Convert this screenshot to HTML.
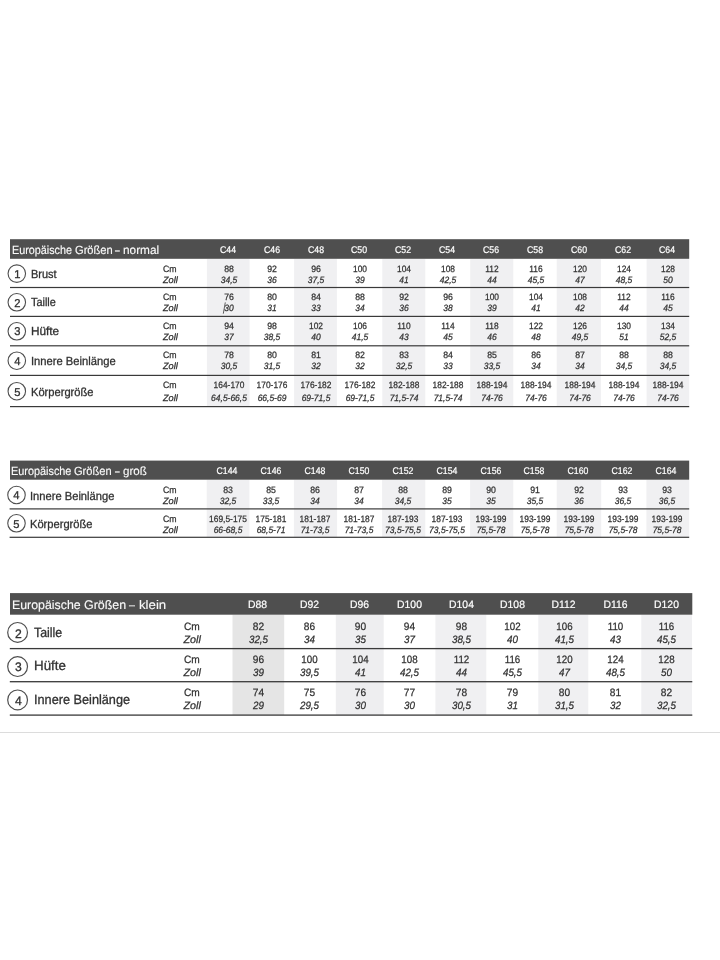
<!DOCTYPE html>
<html lang="de">
<head>
<meta charset="utf-8">
<title>Größentabelle</title>
<style>
html,body{margin:0;padding:0;background:#fff}
body{width:720px;height:960px;position:relative;overflow:hidden;font-family:"Liberation Sans",sans-serif;color:#303030}
#wrap{text-rendering:geometricPrecision}
.bg,.t,.rule,.cur{position:absolute}
.t{line-height:1em;white-space:nowrap;-webkit-text-stroke:0.25px #303030}
.b,.n{-webkit-text-stroke:0.3px #303030}
.l{transform-origin:0 50%}
.c{text-align:center;transform-origin:50% 50%}
.w{color:#fafafa;-webkit-text-stroke:0.12px #fafafa}
.w.c{color:#fff;-webkit-text-stroke:0.2px #fff}
.w span{position:absolute;top:0;transform-origin:0 50%}
.i{font-style:italic}
.rule{left:0;top:732px;width:720px;height:1px;background:#dcdcdc}
</style>
</head>
<body>
<div id="wrap">
<section class="tbl" id="t1">
<svg class="bg" style="left:0;top:237px" width="720" height="173" viewBox="0 237 720 173">
<rect x="206.9" y="258.8" width="42.7" height="147.8" fill="#f0f0f2"/>
<rect x="294.1" y="258.8" width="42.8" height="147.8" fill="#f0f0f2"/>
<rect x="382.3" y="258.8" width="43" height="147.8" fill="#f0f0f2"/>
<rect x="470.2" y="258.8" width="43.1" height="147.8" fill="#f0f0f2"/>
<rect x="556.7" y="258.8" width="44.2" height="147.8" fill="#f0f0f2"/>
<rect x="646.6" y="258.8" width="42.6" height="147.8" fill="#f0f0f2"/>
<rect x="10" y="239.2" width="679.2" height="19.6" fill="#4f4f4f"/>
<rect x="10" y="286.9" width="679.2" height="1.2" fill="#3a3a3a"/>
<rect x="10" y="315.8" width="679.2" height="1.2" fill="#3a3a3a"/>
<rect x="10" y="345.2" width="679.2" height="1.2" fill="#3a3a3a"/>
<rect x="10" y="374.8" width="679.2" height="1.2" fill="#3a3a3a"/>
<rect x="10" y="406" width="679.2" height="1.2" fill="#3a3a3a"/>
<circle cx="16.8" cy="273.6" r="8.75" fill="none" stroke="#4e4e4e" stroke-width="1.1"/>
<circle cx="16.8" cy="302.3" r="8.75" fill="none" stroke="#4e4e4e" stroke-width="1.1"/>
<circle cx="16.8" cy="331.3" r="8.75" fill="none" stroke="#4e4e4e" stroke-width="1.1"/>
<circle cx="16.8" cy="360.7" r="8.75" fill="none" stroke="#4e4e4e" stroke-width="1.1"/>
<circle cx="16.8" cy="391.2" r="8.75" fill="none" stroke="#4e4e4e" stroke-width="1.1"/>
</svg>
<div class="head">
<div class="t w" style="left:0;top:245px;font-size:11.9px"><span style="left:12.07px;transform:scaleX(0.908)">Europäische</span> <span style="left:75.03px;transform:scaleX(0.936)">Größen</span> <span style="left:115.43px;transform:scaleX(0.714)">–</span> <span style="left:123.01px;transform:scaleX(0.993)">normal</span></div>
<div class="t w c" style="left:205.6px;top:246px;font-size:9.7px;width:44px;transform:scaleX(0.9);">C44</div>
<div class="t w c" style="left:249.55px;top:246px;font-size:9.7px;width:44px;transform:scaleX(0.9);">C46</div>
<div class="t w c" style="left:293.5px;top:246px;font-size:9.7px;width:44px;transform:scaleX(0.9);">C48</div>
<div class="t w c" style="left:337.45px;top:246px;font-size:9.7px;width:44px;transform:scaleX(0.9);">C50</div>
<div class="t w c" style="left:381.4px;top:246px;font-size:9.7px;width:44px;transform:scaleX(0.9);">C52</div>
<div class="t w c" style="left:425.35px;top:246px;font-size:9.7px;width:44px;transform:scaleX(0.9);">C54</div>
<div class="t w c" style="left:469.3px;top:246px;font-size:9.7px;width:44px;transform:scaleX(0.9);">C56</div>
<div class="t w c" style="left:513.25px;top:246px;font-size:9.7px;width:44px;transform:scaleX(0.9);">C58</div>
<div class="t w c" style="left:557.2px;top:246px;font-size:9.7px;width:44px;transform:scaleX(0.9);">C60</div>
<div class="t w c" style="left:601.15px;top:246px;font-size:9.7px;width:44px;transform:scaleX(0.9);">C62</div>
<div class="t w c" style="left:645.1px;top:246px;font-size:9.7px;width:44px;transform:scaleX(0.9);">C64</div>
</div>
<div class="row">
<div class="t c n" style="left:7.5px;top:270px;font-size:11.4px;width:18.6px;transform:scaleX(0.98);">1</div>
<div class="t l b" style="left:30.6px;top:269px;font-size:11.8px;transform:scaleX(0.931);">Brust</div>
<div class="t l" style="left:163px;top:265px;font-size:9.2px;transform:scaleX(0.95);">Cm</div>
<div class="t l i" style="left:163px;top:276px;font-size:9.2px;">Zoll</div>
<div class="t c" style="left:206.5px;top:265px;font-size:9.2px;width:44px;transform:scaleX(0.95);">88</div>
<div class="t c i" style="left:206.5px;top:276px;font-size:9.2px;width:44px;transform:scaleX(0.921);">34,5</div>
<div class="t c" style="left:250.45px;top:265px;font-size:9.2px;width:44px;transform:scaleX(0.95);">92</div>
<div class="t c i" style="left:250.45px;top:276px;font-size:9.2px;width:44px;transform:scaleX(0.921);">36</div>
<div class="t c" style="left:294.4px;top:265px;font-size:9.2px;width:44px;transform:scaleX(0.95);">96</div>
<div class="t c i" style="left:294.4px;top:276px;font-size:9.2px;width:44px;transform:scaleX(0.921);">37,5</div>
<div class="t c" style="left:338.35px;top:265px;font-size:9.2px;width:44px;transform:scaleX(0.912);">100</div>
<div class="t c i" style="left:338.35px;top:276px;font-size:9.2px;width:44px;transform:scaleX(0.921);">39</div>
<div class="t c" style="left:382.3px;top:265px;font-size:9.2px;width:44px;transform:scaleX(0.912);">104</div>
<div class="t c i" style="left:382.3px;top:276px;font-size:9.2px;width:44px;transform:scaleX(0.921);">41</div>
<div class="t c" style="left:426.25px;top:265px;font-size:9.2px;width:44px;transform:scaleX(0.912);">108</div>
<div class="t c i" style="left:426.25px;top:276px;font-size:9.2px;width:44px;transform:scaleX(0.921);">42,5</div>
<div class="t c" style="left:470.2px;top:265px;font-size:9.2px;width:44px;transform:scaleX(0.912);">112</div>
<div class="t c i" style="left:470.2px;top:276px;font-size:9.2px;width:44px;transform:scaleX(0.921);">44</div>
<div class="t c" style="left:514.15px;top:265px;font-size:9.2px;width:44px;transform:scaleX(0.912);">116</div>
<div class="t c i" style="left:514.15px;top:276px;font-size:9.2px;width:44px;transform:scaleX(0.921);">45,5</div>
<div class="t c" style="left:558.1px;top:265px;font-size:9.2px;width:44px;transform:scaleX(0.912);">120</div>
<div class="t c i" style="left:558.1px;top:276px;font-size:9.2px;width:44px;transform:scaleX(0.921);">47</div>
<div class="t c" style="left:602.05px;top:265px;font-size:9.2px;width:44px;transform:scaleX(0.912);">124</div>
<div class="t c i" style="left:602.05px;top:276px;font-size:9.2px;width:44px;transform:scaleX(0.921);">48,5</div>
<div class="t c" style="left:646px;top:265px;font-size:9.2px;width:44px;transform:scaleX(0.912);">128</div>
<div class="t c i" style="left:646px;top:276px;font-size:9.2px;width:44px;transform:scaleX(0.921);">50</div>
</div>
<div class="row">
<div class="t c n" style="left:7.5px;top:299px;font-size:11.4px;width:18.6px;transform:scaleX(0.98);">2</div>
<div class="t l b" style="left:31.3px;top:297px;font-size:11.8px;transform:scaleX(0.925);">Taille</div>
<div class="t l" style="left:163px;top:293px;font-size:9.2px;transform:scaleX(0.95);">Cm</div>
<div class="t l i" style="left:163px;top:304px;font-size:9.2px;">Zoll</div>
<div class="t c" style="left:206.5px;top:293px;font-size:9.2px;width:44px;transform:scaleX(0.95);">76</div>
<div class="t c i" style="left:206.5px;top:304px;font-size:9.2px;width:44px;transform:scaleX(0.921);">30</div>
<div class="t c" style="left:250.45px;top:293px;font-size:9.2px;width:44px;transform:scaleX(0.95);">80</div>
<div class="t c i" style="left:250.45px;top:304px;font-size:9.2px;width:44px;transform:scaleX(0.921);">31</div>
<div class="t c" style="left:294.4px;top:293px;font-size:9.2px;width:44px;transform:scaleX(0.95);">84</div>
<div class="t c i" style="left:294.4px;top:304px;font-size:9.2px;width:44px;transform:scaleX(0.921);">33</div>
<div class="t c" style="left:338.35px;top:293px;font-size:9.2px;width:44px;transform:scaleX(0.95);">88</div>
<div class="t c i" style="left:338.35px;top:304px;font-size:9.2px;width:44px;transform:scaleX(0.921);">34</div>
<div class="t c" style="left:382.3px;top:293px;font-size:9.2px;width:44px;transform:scaleX(0.95);">92</div>
<div class="t c i" style="left:382.3px;top:304px;font-size:9.2px;width:44px;transform:scaleX(0.921);">36</div>
<div class="t c" style="left:426.25px;top:293px;font-size:9.2px;width:44px;transform:scaleX(0.95);">96</div>
<div class="t c i" style="left:426.25px;top:304px;font-size:9.2px;width:44px;transform:scaleX(0.921);">38</div>
<div class="t c" style="left:470.2px;top:293px;font-size:9.2px;width:44px;transform:scaleX(0.912);">100</div>
<div class="t c i" style="left:470.2px;top:304px;font-size:9.2px;width:44px;transform:scaleX(0.921);">39</div>
<div class="t c" style="left:514.15px;top:293px;font-size:9.2px;width:44px;transform:scaleX(0.912);">104</div>
<div class="t c i" style="left:514.15px;top:304px;font-size:9.2px;width:44px;transform:scaleX(0.921);">41</div>
<div class="t c" style="left:558.1px;top:293px;font-size:9.2px;width:44px;transform:scaleX(0.912);">108</div>
<div class="t c i" style="left:558.1px;top:304px;font-size:9.2px;width:44px;transform:scaleX(0.921);">42</div>
<div class="t c" style="left:602.05px;top:293px;font-size:9.2px;width:44px;transform:scaleX(0.912);">112</div>
<div class="t c i" style="left:602.05px;top:304px;font-size:9.2px;width:44px;transform:scaleX(0.921);">44</div>
<div class="t c" style="left:646px;top:293px;font-size:9.2px;width:44px;transform:scaleX(0.912);">116</div>
<div class="t c i" style="left:646px;top:304px;font-size:9.2px;width:44px;transform:scaleX(0.921);">45</div>
</div>
<div class="row">
<div class="t c n" style="left:7.5px;top:327px;font-size:11.4px;width:18.6px;transform:scaleX(0.98);">3</div>
<div class="t l b" style="left:30.95px;top:326px;font-size:11.8px;">Hüfte</div>
<div class="t l" style="left:163px;top:322px;font-size:9.2px;transform:scaleX(0.95);">Cm</div>
<div class="t l i" style="left:163px;top:333px;font-size:9.2px;">Zoll</div>
<div class="t c" style="left:206.5px;top:322px;font-size:9.2px;width:44px;transform:scaleX(0.95);">94</div>
<div class="t c i" style="left:206.5px;top:333px;font-size:9.2px;width:44px;transform:scaleX(0.921);">37</div>
<div class="t c" style="left:250.45px;top:322px;font-size:9.2px;width:44px;transform:scaleX(0.95);">98</div>
<div class="t c i" style="left:250.45px;top:333px;font-size:9.2px;width:44px;transform:scaleX(0.921);">38,5</div>
<div class="t c" style="left:294.4px;top:322px;font-size:9.2px;width:44px;transform:scaleX(0.912);">102</div>
<div class="t c i" style="left:294.4px;top:333px;font-size:9.2px;width:44px;transform:scaleX(0.921);">40</div>
<div class="t c" style="left:338.35px;top:322px;font-size:9.2px;width:44px;transform:scaleX(0.912);">106</div>
<div class="t c i" style="left:338.35px;top:333px;font-size:9.2px;width:44px;transform:scaleX(0.921);">41,5</div>
<div class="t c" style="left:382.3px;top:322px;font-size:9.2px;width:44px;transform:scaleX(0.912);">110</div>
<div class="t c i" style="left:382.3px;top:333px;font-size:9.2px;width:44px;transform:scaleX(0.921);">43</div>
<div class="t c" style="left:426.25px;top:322px;font-size:9.2px;width:44px;transform:scaleX(0.912);">114</div>
<div class="t c i" style="left:426.25px;top:333px;font-size:9.2px;width:44px;transform:scaleX(0.921);">45</div>
<div class="t c" style="left:470.2px;top:322px;font-size:9.2px;width:44px;transform:scaleX(0.912);">118</div>
<div class="t c i" style="left:470.2px;top:333px;font-size:9.2px;width:44px;transform:scaleX(0.921);">46</div>
<div class="t c" style="left:514.15px;top:322px;font-size:9.2px;width:44px;transform:scaleX(0.912);">122</div>
<div class="t c i" style="left:514.15px;top:333px;font-size:9.2px;width:44px;transform:scaleX(0.921);">48</div>
<div class="t c" style="left:558.1px;top:322px;font-size:9.2px;width:44px;transform:scaleX(0.912);">126</div>
<div class="t c i" style="left:558.1px;top:333px;font-size:9.2px;width:44px;transform:scaleX(0.921);">49,5</div>
<div class="t c" style="left:602.05px;top:322px;font-size:9.2px;width:44px;transform:scaleX(0.912);">130</div>
<div class="t c i" style="left:602.05px;top:333px;font-size:9.2px;width:44px;transform:scaleX(0.921);">51</div>
<div class="t c" style="left:646px;top:322px;font-size:9.2px;width:44px;transform:scaleX(0.912);">134</div>
<div class="t c i" style="left:646px;top:333px;font-size:9.2px;width:44px;transform:scaleX(0.921);">52,5</div>
</div>
<div class="row">
<div class="t c n" style="left:7.5px;top:357px;font-size:11.4px;width:18.6px;transform:scaleX(0.98);">4</div>
<div class="t l b" style="left:30.75px;top:356px;font-size:11.8px;transform:scaleX(0.949);">Innere Beinlänge</div>
<div class="t l" style="left:163px;top:351px;font-size:9.2px;transform:scaleX(0.95);">Cm</div>
<div class="t l i" style="left:163px;top:362px;font-size:9.2px;">Zoll</div>
<div class="t c" style="left:206.5px;top:351px;font-size:9.2px;width:44px;transform:scaleX(0.95);">78</div>
<div class="t c i" style="left:206.5px;top:362px;font-size:9.2px;width:44px;transform:scaleX(0.921);">30,5</div>
<div class="t c" style="left:250.45px;top:351px;font-size:9.2px;width:44px;transform:scaleX(0.95);">80</div>
<div class="t c i" style="left:250.45px;top:362px;font-size:9.2px;width:44px;transform:scaleX(0.921);">31,5</div>
<div class="t c" style="left:294.4px;top:351px;font-size:9.2px;width:44px;transform:scaleX(0.95);">81</div>
<div class="t c i" style="left:294.4px;top:362px;font-size:9.2px;width:44px;transform:scaleX(0.921);">32</div>
<div class="t c" style="left:338.35px;top:351px;font-size:9.2px;width:44px;transform:scaleX(0.95);">82</div>
<div class="t c i" style="left:338.35px;top:362px;font-size:9.2px;width:44px;transform:scaleX(0.921);">32</div>
<div class="t c" style="left:382.3px;top:351px;font-size:9.2px;width:44px;transform:scaleX(0.95);">83</div>
<div class="t c i" style="left:382.3px;top:362px;font-size:9.2px;width:44px;transform:scaleX(0.921);">32,5</div>
<div class="t c" style="left:426.25px;top:351px;font-size:9.2px;width:44px;transform:scaleX(0.95);">84</div>
<div class="t c i" style="left:426.25px;top:362px;font-size:9.2px;width:44px;transform:scaleX(0.921);">33</div>
<div class="t c" style="left:470.2px;top:351px;font-size:9.2px;width:44px;transform:scaleX(0.95);">85</div>
<div class="t c i" style="left:470.2px;top:362px;font-size:9.2px;width:44px;transform:scaleX(0.921);">33,5</div>
<div class="t c" style="left:514.15px;top:351px;font-size:9.2px;width:44px;transform:scaleX(0.95);">86</div>
<div class="t c i" style="left:514.15px;top:362px;font-size:9.2px;width:44px;transform:scaleX(0.921);">34</div>
<div class="t c" style="left:558.1px;top:351px;font-size:9.2px;width:44px;transform:scaleX(0.95);">87</div>
<div class="t c i" style="left:558.1px;top:362px;font-size:9.2px;width:44px;transform:scaleX(0.921);">34</div>
<div class="t c" style="left:602.05px;top:351px;font-size:9.2px;width:44px;transform:scaleX(0.95);">88</div>
<div class="t c i" style="left:602.05px;top:362px;font-size:9.2px;width:44px;transform:scaleX(0.921);">34,5</div>
<div class="t c" style="left:646px;top:351px;font-size:9.2px;width:44px;transform:scaleX(0.95);">88</div>
<div class="t c i" style="left:646px;top:362px;font-size:9.2px;width:44px;transform:scaleX(0.921);">34,5</div>
</div>
<div class="row">
<div class="t c n" style="left:7.5px;top:388px;font-size:11.4px;width:18.6px;transform:scaleX(0.98);">5</div>
<div class="t l b" style="left:30.99px;top:387px;font-size:11.8px;transform:scaleX(0.944);">Körpergröße</div>
<div class="t l" style="left:163px;top:381px;font-size:9.2px;transform:scaleX(0.95);">Cm</div>
<div class="t l i" style="left:163px;top:394px;font-size:9.2px;">Zoll</div>
<div class="t c" style="left:206.5px;top:381px;font-size:9.2px;width:44px;transform:scaleX(0.912);">164-170</div>
<div class="t c i" style="left:206.5px;top:394px;font-size:9.2px;width:44px;transform:scaleX(0.921);">64,5-66,5</div>
<div class="t c" style="left:250.45px;top:381px;font-size:9.2px;width:44px;transform:scaleX(0.912);">170-176</div>
<div class="t c i" style="left:250.45px;top:394px;font-size:9.2px;width:44px;transform:scaleX(0.921);">66,5-69</div>
<div class="t c" style="left:294.4px;top:381px;font-size:9.2px;width:44px;transform:scaleX(0.912);">176-182</div>
<div class="t c i" style="left:294.4px;top:394px;font-size:9.2px;width:44px;transform:scaleX(0.921);">69-71,5</div>
<div class="t c" style="left:338.35px;top:381px;font-size:9.2px;width:44px;transform:scaleX(0.912);">176-182</div>
<div class="t c i" style="left:338.35px;top:394px;font-size:9.2px;width:44px;transform:scaleX(0.921);">69-71,5</div>
<div class="t c" style="left:382.3px;top:381px;font-size:9.2px;width:44px;transform:scaleX(0.912);">182-188</div>
<div class="t c i" style="left:382.3px;top:394px;font-size:9.2px;width:44px;transform:scaleX(0.921);">71,5-74</div>
<div class="t c" style="left:426.25px;top:381px;font-size:9.2px;width:44px;transform:scaleX(0.912);">182-188</div>
<div class="t c i" style="left:426.25px;top:394px;font-size:9.2px;width:44px;transform:scaleX(0.921);">71,5-74</div>
<div class="t c" style="left:470.2px;top:381px;font-size:9.2px;width:44px;transform:scaleX(0.912);">188-194</div>
<div class="t c i" style="left:470.2px;top:394px;font-size:9.2px;width:44px;transform:scaleX(0.921);">74-76</div>
<div class="t c" style="left:514.15px;top:381px;font-size:9.2px;width:44px;transform:scaleX(0.912);">188-194</div>
<div class="t c i" style="left:514.15px;top:394px;font-size:9.2px;width:44px;transform:scaleX(0.921);">74-76</div>
<div class="t c" style="left:558.1px;top:381px;font-size:9.2px;width:44px;transform:scaleX(0.912);">188-194</div>
<div class="t c i" style="left:558.1px;top:394px;font-size:9.2px;width:44px;transform:scaleX(0.921);">74-76</div>
<div class="t c" style="left:602.05px;top:381px;font-size:9.2px;width:44px;transform:scaleX(0.912);">188-194</div>
<div class="t c i" style="left:602.05px;top:394px;font-size:9.2px;width:44px;transform:scaleX(0.921);">74-76</div>
<div class="t c" style="left:646px;top:381px;font-size:9.2px;width:44px;transform:scaleX(0.912);">188-194</div>
<div class="t c i" style="left:646px;top:394px;font-size:9.2px;width:44px;transform:scaleX(0.921);">74-76</div>
</div>
</section>
<section class="tbl" id="t2">
<svg class="bg" style="left:0;top:458px" width="720" height="83" viewBox="0 458 720 83">
<rect x="206.7" y="479.7" width="42.7" height="57.6" fill="#f0f0f2"/>
<rect x="293.9" y="479.7" width="43.2" height="57.6" fill="#f0f0f2"/>
<rect x="382.1" y="479.7" width="43.2" height="57.6" fill="#f0f0f2"/>
<rect x="470.1" y="479.7" width="43.2" height="57.6" fill="#f0f0f2"/>
<rect x="556.7" y="479.7" width="44.5" height="57.6" fill="#f0f0f2"/>
<rect x="646.4" y="479.7" width="42.8" height="57.6" fill="#f0f0f2"/>
<rect x="10" y="460.6" width="679.2" height="19.1" fill="#4f4f4f"/>
<rect x="9.6" y="508.3" width="679.6" height="1.2" fill="#3a3a3a"/>
<rect x="9.6" y="536.7" width="679.6" height="1.2" fill="#3a3a3a"/>
<circle cx="16.5" cy="495" r="8.75" fill="none" stroke="#4e4e4e" stroke-width="1.1"/>
<circle cx="16.5" cy="523.3" r="8.75" fill="none" stroke="#4e4e4e" stroke-width="1.1"/>
</svg>
<div class="head">
<div class="t w" style="left:0;top:466px;font-size:11.9px"><span style="left:11.41px;transform:scaleX(0.914)">Europäische</span> <span style="left:74.43px;transform:scaleX(0.932)">Größen</span> <span style="left:114.92px;transform:scaleX(0.693)">–</span> <span style="left:122.86px;transform:scaleX(0.973)">groß</span></div>
<div class="t w c" style="left:204.7px;top:467px;font-size:9.7px;width:44px;transform:scaleX(0.9);">C144</div>
<div class="t w c" style="left:248.67px;top:467px;font-size:9.7px;width:44px;transform:scaleX(0.9);">C146</div>
<div class="t w c" style="left:292.64px;top:467px;font-size:9.7px;width:44px;transform:scaleX(0.9);">C148</div>
<div class="t w c" style="left:336.61px;top:467px;font-size:9.7px;width:44px;transform:scaleX(0.9);">C150</div>
<div class="t w c" style="left:380.58px;top:467px;font-size:9.7px;width:44px;transform:scaleX(0.9);">C152</div>
<div class="t w c" style="left:424.55px;top:467px;font-size:9.7px;width:44px;transform:scaleX(0.9);">C154</div>
<div class="t w c" style="left:468.52px;top:467px;font-size:9.7px;width:44px;transform:scaleX(0.9);">C156</div>
<div class="t w c" style="left:512.49px;top:467px;font-size:9.7px;width:44px;transform:scaleX(0.9);">C158</div>
<div class="t w c" style="left:556.46px;top:467px;font-size:9.7px;width:44px;transform:scaleX(0.9);">C160</div>
<div class="t w c" style="left:600.43px;top:467px;font-size:9.7px;width:44px;transform:scaleX(0.9);">C162</div>
<div class="t w c" style="left:644.4px;top:467px;font-size:9.7px;width:44px;transform:scaleX(0.9);">C164</div>
</div>
<div class="row">
<div class="t c n" style="left:7.2px;top:491px;font-size:11.4px;width:18.6px;transform:scaleX(0.98);">4</div>
<div class="t l b" style="left:30.45px;top:491px;font-size:11.8px;transform:scaleX(0.946);">Innere Beinlänge</div>
<div class="t l" style="left:163px;top:486px;font-size:9.2px;transform:scaleX(0.95);">Cm</div>
<div class="t l i" style="left:163px;top:497px;font-size:9.2px;">Zoll</div>
<div class="t c" style="left:205.5px;top:486px;font-size:9.2px;width:44px;transform:scaleX(0.95);">83</div>
<div class="t c i" style="left:205.5px;top:497px;font-size:9.2px;width:44px;transform:scaleX(0.921);">32,5</div>
<div class="t c" style="left:249.47px;top:486px;font-size:9.2px;width:44px;transform:scaleX(0.95);">85</div>
<div class="t c i" style="left:249.47px;top:497px;font-size:9.2px;width:44px;transform:scaleX(0.921);">33,5</div>
<div class="t c" style="left:293.44px;top:486px;font-size:9.2px;width:44px;transform:scaleX(0.95);">86</div>
<div class="t c i" style="left:293.44px;top:497px;font-size:9.2px;width:44px;transform:scaleX(0.921);">34</div>
<div class="t c" style="left:337.41px;top:486px;font-size:9.2px;width:44px;transform:scaleX(0.95);">87</div>
<div class="t c i" style="left:337.41px;top:497px;font-size:9.2px;width:44px;transform:scaleX(0.921);">34</div>
<div class="t c" style="left:381.38px;top:486px;font-size:9.2px;width:44px;transform:scaleX(0.95);">88</div>
<div class="t c i" style="left:381.38px;top:497px;font-size:9.2px;width:44px;transform:scaleX(0.921);">34,5</div>
<div class="t c" style="left:425.35px;top:486px;font-size:9.2px;width:44px;transform:scaleX(0.95);">89</div>
<div class="t c i" style="left:425.35px;top:497px;font-size:9.2px;width:44px;transform:scaleX(0.921);">35</div>
<div class="t c" style="left:469.32px;top:486px;font-size:9.2px;width:44px;transform:scaleX(0.95);">90</div>
<div class="t c i" style="left:469.32px;top:497px;font-size:9.2px;width:44px;transform:scaleX(0.921);">35</div>
<div class="t c" style="left:513.29px;top:486px;font-size:9.2px;width:44px;transform:scaleX(0.95);">91</div>
<div class="t c i" style="left:513.29px;top:497px;font-size:9.2px;width:44px;transform:scaleX(0.921);">35,5</div>
<div class="t c" style="left:557.26px;top:486px;font-size:9.2px;width:44px;transform:scaleX(0.95);">92</div>
<div class="t c i" style="left:557.26px;top:497px;font-size:9.2px;width:44px;transform:scaleX(0.921);">36</div>
<div class="t c" style="left:601.23px;top:486px;font-size:9.2px;width:44px;transform:scaleX(0.95);">93</div>
<div class="t c i" style="left:601.23px;top:497px;font-size:9.2px;width:44px;transform:scaleX(0.921);">36,5</div>
<div class="t c" style="left:645.2px;top:486px;font-size:9.2px;width:44px;transform:scaleX(0.95);">93</div>
<div class="t c i" style="left:645.2px;top:497px;font-size:9.2px;width:44px;transform:scaleX(0.921);">36,5</div>
</div>
<div class="row">
<div class="t c n" style="left:7.2px;top:520px;font-size:11.4px;width:18.6px;transform:scaleX(0.98);">5</div>
<div class="t l b" style="left:30.49px;top:519px;font-size:11.8px;transform:scaleX(0.944);">Körpergröße</div>
<div class="t l" style="left:163px;top:515px;font-size:9.2px;transform:scaleX(0.95);">Cm</div>
<div class="t l i" style="left:163px;top:526px;font-size:9.2px;">Zoll</div>
<div class="t c" style="left:205.5px;top:515px;font-size:9.2px;width:44px;transform:scaleX(0.912);">169,5-175</div>
<div class="t c i" style="left:205.5px;top:526px;font-size:9.2px;width:44px;transform:scaleX(0.921);">66-68,5</div>
<div class="t c" style="left:249.47px;top:515px;font-size:9.2px;width:44px;transform:scaleX(0.912);">175-181</div>
<div class="t c i" style="left:249.47px;top:526px;font-size:9.2px;width:44px;transform:scaleX(0.921);">68,5-71</div>
<div class="t c" style="left:293.44px;top:515px;font-size:9.2px;width:44px;transform:scaleX(0.912);">181-187</div>
<div class="t c i" style="left:293.44px;top:526px;font-size:9.2px;width:44px;transform:scaleX(0.921);">71-73,5</div>
<div class="t c" style="left:337.41px;top:515px;font-size:9.2px;width:44px;transform:scaleX(0.912);">181-187</div>
<div class="t c i" style="left:337.41px;top:526px;font-size:9.2px;width:44px;transform:scaleX(0.921);">71-73,5</div>
<div class="t c" style="left:381.38px;top:515px;font-size:9.2px;width:44px;transform:scaleX(0.912);">187-193</div>
<div class="t c i" style="left:381.38px;top:526px;font-size:9.2px;width:44px;transform:scaleX(0.921);">73,5-75,5</div>
<div class="t c" style="left:425.35px;top:515px;font-size:9.2px;width:44px;transform:scaleX(0.912);">187-193</div>
<div class="t c i" style="left:425.35px;top:526px;font-size:9.2px;width:44px;transform:scaleX(0.921);">73,5-75,5</div>
<div class="t c" style="left:469.32px;top:515px;font-size:9.2px;width:44px;transform:scaleX(0.912);">193-199</div>
<div class="t c i" style="left:469.32px;top:526px;font-size:9.2px;width:44px;transform:scaleX(0.921);">75,5-78</div>
<div class="t c" style="left:513.29px;top:515px;font-size:9.2px;width:44px;transform:scaleX(0.912);">193-199</div>
<div class="t c i" style="left:513.29px;top:526px;font-size:9.2px;width:44px;transform:scaleX(0.921);">75,5-78</div>
<div class="t c" style="left:557.26px;top:515px;font-size:9.2px;width:44px;transform:scaleX(0.912);">193-199</div>
<div class="t c i" style="left:557.26px;top:526px;font-size:9.2px;width:44px;transform:scaleX(0.921);">75,5-78</div>
<div class="t c" style="left:601.23px;top:515px;font-size:9.2px;width:44px;transform:scaleX(0.912);">193-199</div>
<div class="t c i" style="left:601.23px;top:526px;font-size:9.2px;width:44px;transform:scaleX(0.921);">75,5-78</div>
<div class="t c" style="left:645.2px;top:515px;font-size:9.2px;width:44px;transform:scaleX(0.912);">193-199</div>
<div class="t c i" style="left:645.2px;top:526px;font-size:9.2px;width:44px;transform:scaleX(0.921);">75,5-78</div>
</div>
</section>
<section class="tbl" id="t3">
<svg class="bg" style="left:0;top:591px" width="720" height="128" viewBox="0 591 720 128">
<rect x="232.5" y="614.7" width="51.7" height="100.4" fill="#e5e5e5"/>
<rect x="335.8" y="614.7" width="47.9" height="100.4" fill="#eeeef0"/>
<rect x="435.4" y="614.7" width="50.9" height="100.4" fill="#f0f0f2"/>
<rect x="538.3" y="614.7" width="50" height="100.4" fill="#f0f0f2"/>
<rect x="641.3" y="614.7" width="50.7" height="100.4" fill="#f0f0f2"/>
<rect x="10" y="593.1" width="682.3" height="21.6" fill="#4f4f4f"/>
<rect x="9.8" y="647.95" width="682.5" height="1.3" fill="#3a3a3a"/>
<rect x="9.8" y="681.05" width="682.5" height="1.3" fill="#3a3a3a"/>
<rect x="9.8" y="714.45" width="682.5" height="1.3" fill="#3a3a3a"/>
<circle cx="17.6" cy="632.4" r="9.9" fill="none" stroke="#4e4e4e" stroke-width="1.2"/>
<circle cx="17.6" cy="666.6" r="9.9" fill="none" stroke="#4e4e4e" stroke-width="1.2"/>
<circle cx="17.6" cy="699.9" r="9.9" fill="none" stroke="#4e4e4e" stroke-width="1.2"/>
</svg>
<div class="head">
<div class="t w" style="left:0;top:599px;font-size:12.4px"><span style="left:12.25px;transform:scaleX(0.996)">Europäische</span> <span style="left:84.3px;transform:scaleX(1.005)">Größen</span> <span style="left:129.47px;transform:scaleX(0.862)">–</span> <span style="left:138.7px;transform:scaleX(1.067)">klein</span></div>
<div class="t w c" style="left:232.2px;top:600px;font-size:10.6px;width:51px;transform:scaleX(0.98);">D88</div>
<div class="t w c" style="left:283.9px;top:600px;font-size:10.6px;width:51px;transform:scaleX(0.98);">D92</div>
<div class="t w c" style="left:334.2px;top:600px;font-size:10.6px;width:51px;transform:scaleX(0.98);">D96</div>
<div class="t w c" style="left:383.9px;top:600px;font-size:10.6px;width:51px;transform:scaleX(0.98);">D100</div>
<div class="t w c" style="left:435.5px;top:600px;font-size:10.6px;width:51px;transform:scaleX(0.98);">D104</div>
<div class="t w c" style="left:486.7px;top:600px;font-size:10.6px;width:51px;transform:scaleX(0.98);">D108</div>
<div class="t w c" style="left:538.4px;top:600px;font-size:10.6px;width:51px;transform:scaleX(0.98);">D112</div>
<div class="t w c" style="left:589.5px;top:600px;font-size:10.6px;width:51px;transform:scaleX(0.98);">D116</div>
<div class="t w c" style="left:640.9px;top:600px;font-size:10.6px;width:51px;transform:scaleX(0.98);">D120</div>
</div>
<div class="row">
<div class="t c n" style="left:7.6px;top:628px;font-size:12.4px;width:21px;transform:scaleX(0.98);">2</div>
<div class="t l b" style="left:34.3px;top:626px;font-size:13.3px;transform:scaleX(0.931);">Taille</div>
<div class="t l" style="left:183.6px;top:622px;font-size:10.7px;transform:scaleX(0.95);">Cm</div>
<div class="t l i" style="left:183.6px;top:635px;font-size:10.7px;">Zoll</div>
<div class="t c" style="left:232.5px;top:622px;font-size:10.7px;width:51px;transform:scaleX(0.95);">82</div>
<div class="t c i" style="left:232.5px;top:635px;font-size:10.7px;width:51px;transform:scaleX(0.921);">32,5</div>
<div class="t c" style="left:284.2px;top:622px;font-size:10.7px;width:51px;transform:scaleX(0.95);">86</div>
<div class="t c i" style="left:284.2px;top:635px;font-size:10.7px;width:51px;transform:scaleX(0.921);">34</div>
<div class="t c" style="left:334.5px;top:622px;font-size:10.7px;width:51px;transform:scaleX(0.95);">90</div>
<div class="t c i" style="left:334.5px;top:635px;font-size:10.7px;width:51px;transform:scaleX(0.921);">35</div>
<div class="t c" style="left:384.2px;top:622px;font-size:10.7px;width:51px;transform:scaleX(0.95);">94</div>
<div class="t c i" style="left:384.2px;top:635px;font-size:10.7px;width:51px;transform:scaleX(0.921);">37</div>
<div class="t c" style="left:435.8px;top:622px;font-size:10.7px;width:51px;transform:scaleX(0.95);">98</div>
<div class="t c i" style="left:435.8px;top:635px;font-size:10.7px;width:51px;transform:scaleX(0.921);">38,5</div>
<div class="t c" style="left:487px;top:622px;font-size:10.7px;width:51px;transform:scaleX(0.912);">102</div>
<div class="t c i" style="left:487px;top:635px;font-size:10.7px;width:51px;transform:scaleX(0.921);">40</div>
<div class="t c" style="left:538.7px;top:622px;font-size:10.7px;width:51px;transform:scaleX(0.912);">106</div>
<div class="t c i" style="left:538.7px;top:635px;font-size:10.7px;width:51px;transform:scaleX(0.921);">41,5</div>
<div class="t c" style="left:589.8px;top:622px;font-size:10.7px;width:51px;transform:scaleX(0.912);">110</div>
<div class="t c i" style="left:589.8px;top:635px;font-size:10.7px;width:51px;transform:scaleX(0.921);">43</div>
<div class="t c" style="left:641.2px;top:622px;font-size:10.7px;width:51px;transform:scaleX(0.912);">116</div>
<div class="t c i" style="left:641.2px;top:635px;font-size:10.7px;width:51px;transform:scaleX(0.921);">45,5</div>
</div>
<div class="row">
<div class="t c n" style="left:7.6px;top:661px;font-size:12.4px;width:21px;transform:scaleX(0.98);">3</div>
<div class="t l b" style="left:33.5px;top:659px;font-size:13.3px;transform:scaleX(1.005);">Hüfte</div>
<div class="t l" style="left:183.6px;top:655px;font-size:10.7px;transform:scaleX(0.95);">Cm</div>
<div class="t l i" style="left:183.6px;top:668px;font-size:10.7px;">Zoll</div>
<div class="t c" style="left:232.5px;top:655px;font-size:10.7px;width:51px;transform:scaleX(0.95);">96</div>
<div class="t c i" style="left:232.5px;top:668px;font-size:10.7px;width:51px;transform:scaleX(0.921);">39</div>
<div class="t c" style="left:284.2px;top:655px;font-size:10.7px;width:51px;transform:scaleX(0.912);">100</div>
<div class="t c i" style="left:284.2px;top:668px;font-size:10.7px;width:51px;transform:scaleX(0.921);">39,5</div>
<div class="t c" style="left:334.5px;top:655px;font-size:10.7px;width:51px;transform:scaleX(0.912);">104</div>
<div class="t c i" style="left:334.5px;top:668px;font-size:10.7px;width:51px;transform:scaleX(0.921);">41</div>
<div class="t c" style="left:384.2px;top:655px;font-size:10.7px;width:51px;transform:scaleX(0.912);">108</div>
<div class="t c i" style="left:384.2px;top:668px;font-size:10.7px;width:51px;transform:scaleX(0.921);">42,5</div>
<div class="t c" style="left:435.8px;top:655px;font-size:10.7px;width:51px;transform:scaleX(0.912);">112</div>
<div class="t c i" style="left:435.8px;top:668px;font-size:10.7px;width:51px;transform:scaleX(0.921);">44</div>
<div class="t c" style="left:487px;top:655px;font-size:10.7px;width:51px;transform:scaleX(0.912);">116</div>
<div class="t c i" style="left:487px;top:668px;font-size:10.7px;width:51px;transform:scaleX(0.921);">45,5</div>
<div class="t c" style="left:538.7px;top:655px;font-size:10.7px;width:51px;transform:scaleX(0.912);">120</div>
<div class="t c i" style="left:538.7px;top:668px;font-size:10.7px;width:51px;transform:scaleX(0.921);">47</div>
<div class="t c" style="left:589.8px;top:655px;font-size:10.7px;width:51px;transform:scaleX(0.912);">124</div>
<div class="t c i" style="left:589.8px;top:668px;font-size:10.7px;width:51px;transform:scaleX(0.921);">48,5</div>
<div class="t c" style="left:641.2px;top:655px;font-size:10.7px;width:51px;transform:scaleX(0.912);">128</div>
<div class="t c i" style="left:641.2px;top:668px;font-size:10.7px;width:51px;transform:scaleX(0.921);">50</div>
</div>
<div class="row">
<div class="t c n" style="left:7.6px;top:695px;font-size:12.4px;width:21px;transform:scaleX(0.98);">4</div>
<div class="t l b" style="left:33.85px;top:693px;font-size:13.3px;transform:scaleX(0.955);">Innere Beinlänge</div>
<div class="t l" style="left:183.6px;top:688px;font-size:10.7px;transform:scaleX(0.95);">Cm</div>
<div class="t l i" style="left:183.6px;top:701px;font-size:10.7px;">Zoll</div>
<div class="t c" style="left:232.5px;top:688px;font-size:10.7px;width:51px;transform:scaleX(0.95);">74</div>
<div class="t c i" style="left:232.5px;top:701px;font-size:10.7px;width:51px;transform:scaleX(0.921);">29</div>
<div class="t c" style="left:284.2px;top:688px;font-size:10.7px;width:51px;transform:scaleX(0.95);">75</div>
<div class="t c i" style="left:284.2px;top:701px;font-size:10.7px;width:51px;transform:scaleX(0.921);">29,5</div>
<div class="t c" style="left:334.5px;top:688px;font-size:10.7px;width:51px;transform:scaleX(0.95);">76</div>
<div class="t c i" style="left:334.5px;top:701px;font-size:10.7px;width:51px;transform:scaleX(0.921);">30</div>
<div class="t c" style="left:384.2px;top:688px;font-size:10.7px;width:51px;transform:scaleX(0.95);">77</div>
<div class="t c i" style="left:384.2px;top:701px;font-size:10.7px;width:51px;transform:scaleX(0.921);">30</div>
<div class="t c" style="left:435.8px;top:688px;font-size:10.7px;width:51px;transform:scaleX(0.95);">78</div>
<div class="t c i" style="left:435.8px;top:701px;font-size:10.7px;width:51px;transform:scaleX(0.921);">30,5</div>
<div class="t c" style="left:487px;top:688px;font-size:10.7px;width:51px;transform:scaleX(0.95);">79</div>
<div class="t c i" style="left:487px;top:701px;font-size:10.7px;width:51px;transform:scaleX(0.921);">31</div>
<div class="t c" style="left:538.7px;top:688px;font-size:10.7px;width:51px;transform:scaleX(0.95);">80</div>
<div class="t c i" style="left:538.7px;top:701px;font-size:10.7px;width:51px;transform:scaleX(0.921);">31,5</div>
<div class="t c" style="left:589.8px;top:688px;font-size:10.7px;width:51px;transform:scaleX(0.95);">81</div>
<div class="t c i" style="left:589.8px;top:701px;font-size:10.7px;width:51px;transform:scaleX(0.921);">32</div>
<div class="t c" style="left:641.2px;top:688px;font-size:10.7px;width:51px;transform:scaleX(0.95);">82</div>
<div class="t c i" style="left:641.2px;top:701px;font-size:10.7px;width:51px;transform:scaleX(0.921);">32,5</div>
</div>
</section>
<svg class="cur" style="left:220px;top:300px" width="10" height="16" viewBox="220 300 10 16"><line x1="225.3" y1="302.4" x2="223.3" y2="313.7" stroke="#3a3a3a" stroke-width="0.8"/></svg>
<div class="rule"></div>
</div>
</body>
</html>
